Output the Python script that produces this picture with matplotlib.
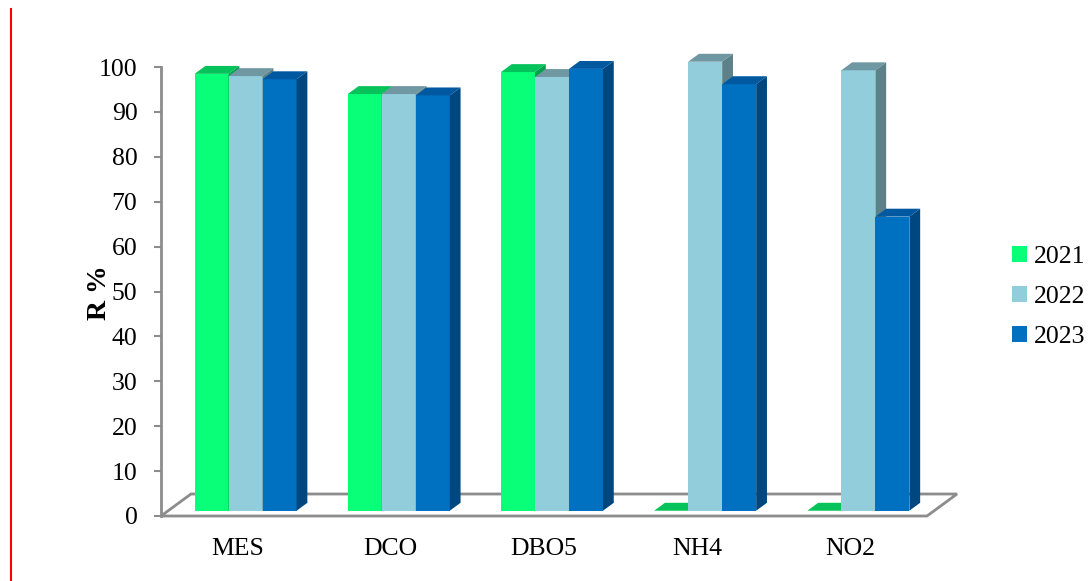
import matplotlib
matplotlib.use("Agg")
import matplotlib.pyplot as plt
from matplotlib.patches import Polygon, Patch
from matplotlib.lines import Line2D

plt.rcParams['font.family'] = ['Liberation Serif', 'DejaVu Serif']

categories = ["MES", "DCO", "DBO5", "NH4", "NO2"]
years = ["2021", "2022", "2023"]
r2021 = [97.3, 92.8, 97.7, 0.0, 0.0]
r2022 = [96.8, 92.8, 96.6, 100.0, 98.1]
r2023 = [96.1, 92.5, 98.4, 95.0, 65.5]
yticks = list(range(0, 101, 10))

# front / top / side shades for each series
front_colors = ["#0AFF78", "#92CDDC", "#0070C0"]
top_colors = ["#06C25A", "#6F98A3", "#0059A0"]
side_colors = ["#05A04B", "#5E8189", "#00477F"]

W, H = 1089, 581
fig = plt.figure(figsize=(W / 100, H / 100), dpi=100)

x0_px, y0_px = 161, 516          # front-left corner of the floor
cat_px, val_px = 153.2, 4.49     # pixels per category / per value unit
xmin, xmax = -0.5, 4.75
ymin, ymax = 0, 104
ax = fig.add_axes([x0_px / W, (H - y0_px) / H,
                   (xmax - xmin) * cat_px / W, (ymax - ymin) * val_px / H])
ax.set_xlim(xmin, xmax)
ax.set_ylim(ymin, ymax)

# depth of the floor in data units
DX, DY = 30 / cat_px, 22 / val_px
z_front, z_back = 0.24, 0.60
bdx, bdy = (z_back - z_front) * DX, (z_back - z_front) * DY
base = z_front * DY
bw = 34 / cat_px
grey = "#8C8C8C"

floor = Polygon([(-0.5, 0), (4.5, 0), (4.5 + DX, DY), (-0.5 + DX, DY)],
                closed=True, facecolor="white", edgecolor=grey, lw=2,
                zorder=1, clip_on=False)
ax.add_patch(floor)

series = [r2021, r2022, r2023]
handles = []
for i in range(len(categories)):
    for j, vals in enumerate(series):
        xc = i + (j - 1) * bw + z_front * DX + 0.005
        v = vals[i]
        ax.bar(xc, v, width=bw, bottom=base, color=front_colors[j],
               edgecolor="none", zorder=3 + i * 3 + j)
        if i == 0:
            handles.append(Patch(facecolor=front_colors[j], label=years[j]))
        xl, xr = xc - bw / 2, xc + bw / 2
        top = base + v
        ax.add_patch(Polygon([(xl, top), (xr, top), (xr + bdx, top + bdy),
                              (xl + bdx, top + bdy)], closed=True,
                             facecolor=top_colors[j], edgecolor="none",
                             zorder=3 + i * 3 + j))
        if v > 0:
            ax.add_patch(Polygon([(xr, base), (xr, top), (xr + bdx, top + bdy),
                                  (xr + bdx, base + bdy)], closed=True,
                                 facecolor=side_colors[j], edgecolor="none",
                                 zorder=3 + i * 3 + j))

for s in ["top", "right", "bottom"]:
    ax.spines[s].set_visible(False)
ax.spines["left"].set_bounds(0, 100)
ax.spines["left"].set_color(grey)
ax.spines["left"].set_linewidth(2)
ax.spines["left"].set_zorder(2)
ax.set_yticks(yticks)
ax.tick_params(axis="y", direction="out", length=5, width=1.5, color=grey,
               labelsize=18.5, pad=12)
ax.set_xticks(range(len(categories)))
ax.set_xticklabels(categories)
ax.tick_params(axis="x", length=0, labelsize=18.5, pad=16)
ax.patch.set_alpha(0)

fig.text(100 / W, 1 - 293 / H, "R %", rotation=90, ha="center", va="center",
         fontsize=20, fontweight="bold")

fig.legend(handles=handles, loc="center left",
           bbox_to_anchor=(1012 / W, 1 - 297 / H), frameon=False, fontsize=18.5,
           handlelength=0.6, handleheight=0.6, handletextpad=0.25,
           labelspacing=0.7, borderpad=0, borderaxespad=0)

fig.add_artist(Line2D([10.5 / W, 10.5 / W], [0, 1 - 9 / H], color="red", lw=1.5))

fig.savefig("out.png", dpi=100)
